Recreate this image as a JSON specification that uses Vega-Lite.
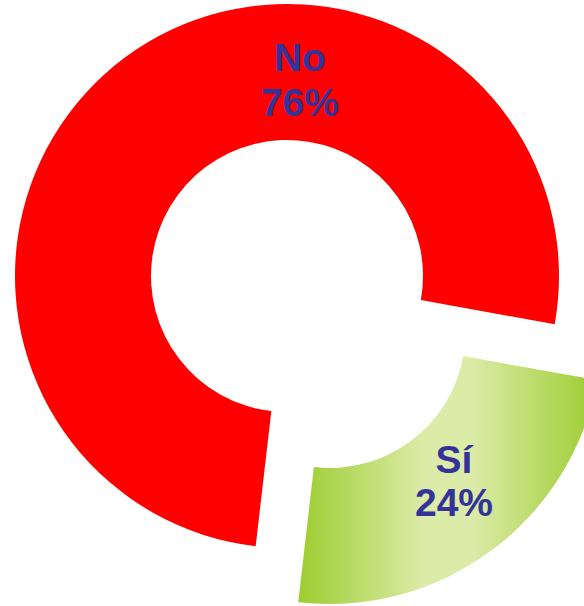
{
  "$schema": "https://vega.github.io/schema/vega-lite/v6.json",
  "width": 574,
  "height": 552,
  "autosize": "none",
  "padding": {"left": 0, "top": 0, "right": 10, "bottom": 54},
  "background": "white",
  "config": {"view": {"stroke": null}},
  "data": {"values": [
    {"respuesta": "No", "pct": 76},
    {"respuesta": "Sí", "pct": 24}
  ]},
  "transform": [
    {"stack": "pct", "groupby": [], "sort": [{"field": "respuesta", "order": "ascending"}], "as": ["t0", "t1"]},
    {"calculate": "(datum.t0 + datum.t1) / 2", "as": "tmid"},
    {"calculate": "datum.pct / 100", "as": "frac"}
  ],
  "layer": [
    {
      "transform": [{"filter": "datum.respuesta === 'No'"}],
      "mark": {"type": "arc", "innerRadius": 136, "outerRadius": 272, "fill": "#FF0000"},
      "encoding": {
        "theta": {"field": "t0", "type": "quantitative", "scale": {"domain": [0, 100], "range": [3.257, 9.540]}},
        "theta2": {"field": "t1"}
      }
    },
    {
      "transform": [{"filter": "datum.respuesta === 'Sí'"}],
      "mark": {"type": "arc", "innerRadius": 136, "outerRadius": 272, "xOffset": 42.5, "yOffset": 56,
        "fill": {"gradient": "linear", "x1": 0, "y1": 0, "x2": 1, "y2": 0,
          "stops": [
            {"offset": 0, "color": "#9CCD30"},
            {"offset": 0.42, "color": "#DCEBA8"},
            {"offset": 0.58, "color": "#DCEBA8"},
            {"offset": 1, "color": "#9CCD30"}
          ]}},
      "encoding": {
        "theta": {"field": "t0", "type": "quantitative", "scale": {"domain": [0, 100], "range": [3.257, 9.540]}},
        "theta2": {"field": "t1"}
      }
    },
    {
      "transform": [{"filter": "datum.respuesta === 'No'"}],
      "mark": {"type": "text", "radius": 195, "thetaOffset": 0.705, "dy": -22, "font": "Liberation Sans", "fontWeight": "bold", "fontSize": 39, "fill": "#333399", "align": "center", "baseline": "middle"},
      "encoding": {
        "theta": {"field": "tmid", "type": "quantitative", "scale": {"domain": [0, 100], "range": [3.257, 9.540]}},
        "text": {"field": "respuesta"}
      }
    },
    {
      "transform": [{"filter": "datum.respuesta === 'No'"}],
      "mark": {"type": "text", "radius": 195, "thetaOffset": 0.705, "dy": 23, "font": "Liberation Sans", "fontWeight": "bold", "fontSize": 39, "fill": "#333399", "align": "center", "baseline": "middle"},
      "encoding": {
        "theta": {"field": "tmid", "type": "quantitative", "scale": {"domain": [0, 100], "range": [3.257, 9.540]}},
        "text": {"field": "frac", "format": ".0%"}
      }
    },
    {
      "transform": [{"filter": "datum.respuesta === 'Sí'"}],
      "mark": {"type": "text", "radius": 194, "thetaOffset": -0.058, "xOffset": 42.5, "yOffset": 56, "dy": -20, "font": "Liberation Sans", "fontWeight": "bold", "fontSize": 39, "fill": "#333399", "align": "center", "baseline": "middle"},
      "encoding": {
        "theta": {"field": "tmid", "type": "quantitative", "scale": {"domain": [0, 100], "range": [3.257, 9.540]}},
        "text": {"field": "respuesta"}
      }
    },
    {
      "transform": [{"filter": "datum.respuesta === 'Sí'"}],
      "mark": {"type": "text", "radius": 194, "thetaOffset": -0.058, "xOffset": 42.5, "yOffset": 56, "dy": 23, "font": "Liberation Sans", "fontWeight": "bold", "fontSize": 39, "fill": "#333399", "align": "center", "baseline": "middle"},
      "encoding": {
        "theta": {"field": "tmid", "type": "quantitative", "scale": {"domain": [0, 100], "range": [3.257, 9.540]}},
        "text": {"field": "frac", "format": ".0%"}
      }
    }
  ]
}
